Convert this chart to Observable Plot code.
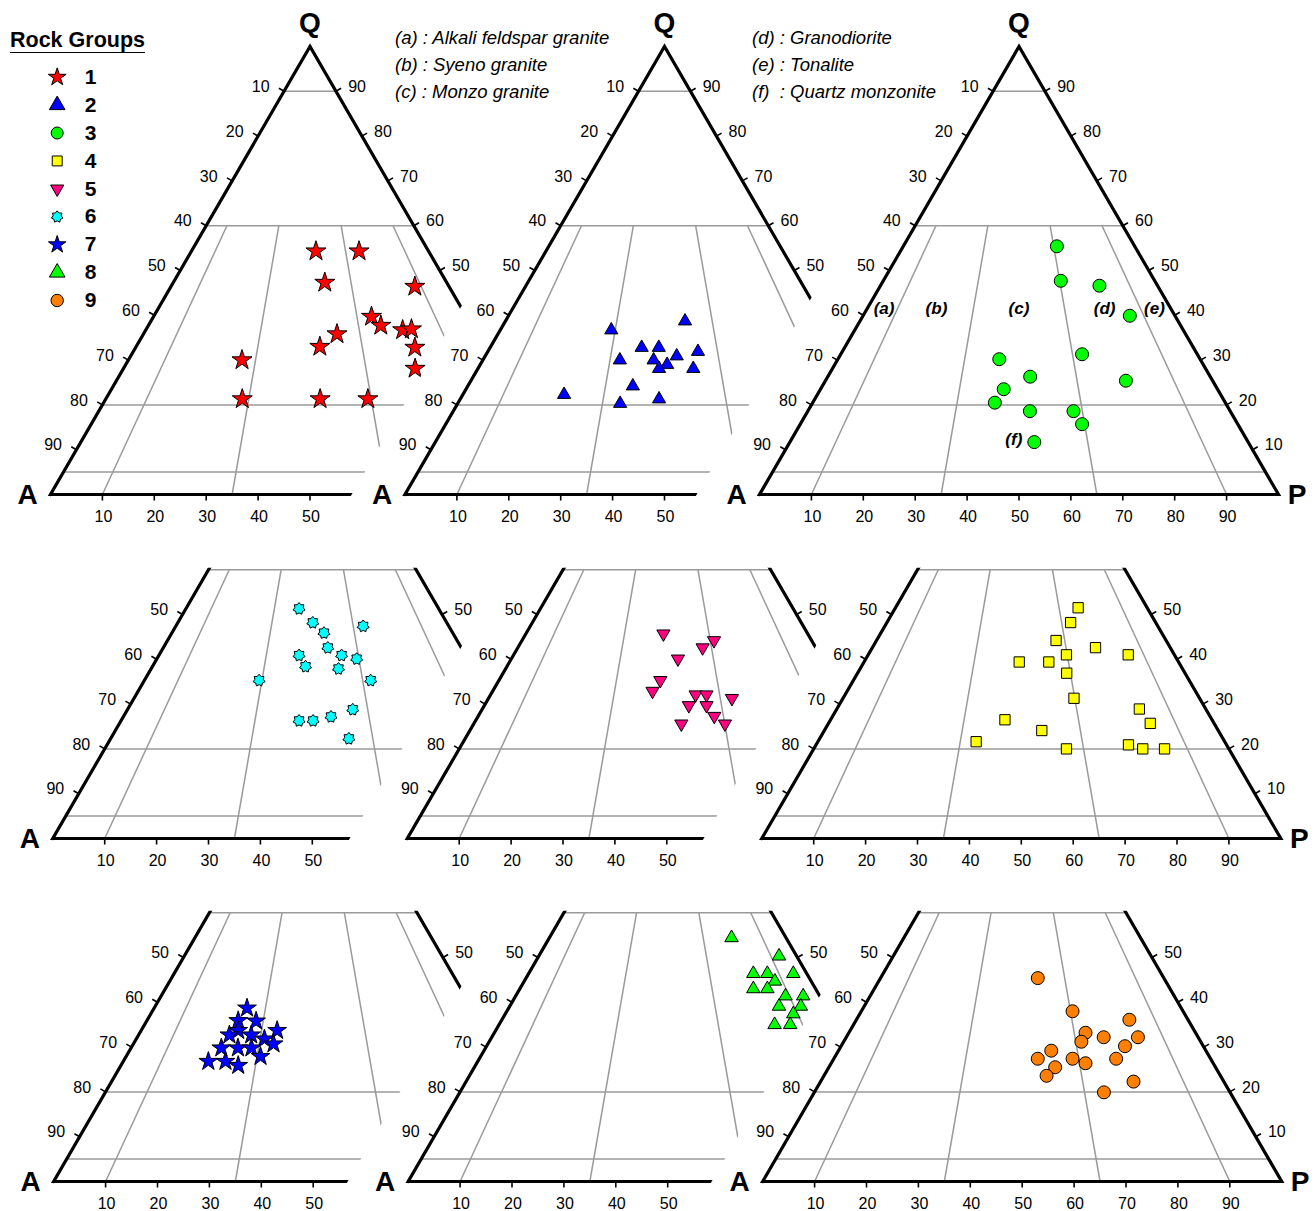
<!DOCTYPE html>
<html>
<head>
<meta charset="utf-8">
<script src="https://cdn.jsdelivr.net/npm/d3@7"></script>
<script src="https://cdn.jsdelivr.net/npm/@observablehq/plot@0.6"></script>
<style>
  html, body { margin: 0; padding: 0; background: #fff; }
  #page { position: relative; width: 1314px; height: 1211px; overflow: hidden; background: #fff; font-family: "Liberation Sans", Arial, sans-serif; }
  #page svg { position: absolute; left: 0; top: 0; }
  .note { position: absolute; font-style: italic; font-size: 18.5px; line-height: 20px; white-space: pre; color: #000; }
  .title { position: absolute; left: 10px; top: 28px; font-weight: bold; font-size: 21.5px; line-height: 24px; border-bottom: 1.5px solid #000; white-space: pre; color: #000; }
</style>
</head>
<body>
<div id="page"></div>
<script>
// ---------------- DATA (ternary percentages [Q, A, P]) ----------------
const groups = ["1", "2", "3", "4", "5", "6", "7", "8", "9"];

const group1 = [[54.3,21.7,24.0],[54.3,13.4,32.3],[47.3,23.5,29.2],[46.4,6.6,47.0],[39.7,18.3,42.0],[37.7,17.5,44.8],[36.7,13.8,49.5],[36.9,12.0,51.1],[35.8,26.9,37.3],[33.0,31.6,35.4],[32.8,13.4,53.8],[30.0,48.1,21.9],[28.1,15.7,56.2],[21.3,52.4,26.3],[21.3,37.4,41.3],[21.3,28.2,50.5]];
const group2 = [[38.7,26.7,34.6],[36.7,41.9,21.4],[32.8,38.0,29.2],[32.8,34.7,32.5],[31.9,27.6,40.5],[30.9,32.2,36.9],[30.0,43.6,26.4],[30.0,37.1,32.9],[29.0,35.0,36.0],[28.1,37.0,34.9],[28.1,30.4,41.5],[24.2,44.0,31.8],[22.3,58.2,19.5],[21.3,40.4,38.3],[20.3,48.4,31.3]];
const group3 = [[55.4,15.0,29.6],[47.7,18.1,34.2],[46.6,11.2,42.2],[39.9,8.7,51.4],[31.3,22.2,46.5],[30.2,38.7,31.1],[26.3,34.7,39.0],[25.4,16.7,57.9],[23.5,41.2,35.3],[20.5,44.4,35.1],[18.6,38.6,42.8],[18.6,30.2,51.2],[15.7,30.0,54.3],[11.7,41.2,47.1]];
const group4 = [[51.5,13.3,35.2],[48.2,16.4,35.4],[44.2,21.2,34.6],[42.6,14.4,43.0],[41.0,20.8,38.2],[41.0,8.9,50.1],[39.4,30.7,29.9],[39.4,25.0,35.6],[36.9,22.8,40.3],[31.3,24.2,44.5],[28.9,12.8,58.3],[26.5,39.9,33.6],[25.7,12.3,62.0],[24.1,34.0,41.9],[21.6,47.9,30.5],[20.9,18.9,60.2],[20.0,31.3,48.7],[20.0,16.6,63.4],[20.0,12.4,67.6]];
const group5 = [[45.7,27.8,26.5],[44.2,18.8,37.0],[42.6,21.8,35.6],[40.1,27.8,32.1],[35.3,33.6,31.1],[32.9,36.3,30.8],[32.1,28.4,39.5],[32.1,26.3,41.6],[31.3,21.8,46.9],[29.7,30.9,39.4],[29.7,27.5,42.8],[27.3,27.2,45.5],[25.6,34.4,40.0],[25.6,26.0,48.4]];
const group6 = [[51.3,26.9,21.8],[48.2,25.8,26.0],[47.4,16.5,36.1],[45.9,24.8,29.3],[42.6,25.7,31.7],[40.9,32.1,27.0],[40.9,23.9,35.2],[40.1,21.4,38.5],[38.4,32.1,29.5],[37.9,26.0,36.1],[35.3,42.6,22.1],[35.3,21.1,43.6],[28.8,27.8,43.4],[27.2,32.8,40.0],[26.3,39.4,34.3],[26.3,36.7,37.0],[22.3,31.8,45.9]];
const group7 = [[38.7,43.4,17.9],[35.9,46.5,17.6],[35.8,43.1,21.1],[33.7,47.6,18.7],[33.7,40.1,26.2],[32.7,49.8,17.5],[32.7,45.6,21.7],[31.8,43.5,24.7],[30.7,42.3,27.0],[29.8,52.8,17.4],[29.8,49.6,20.6],[29.8,47.0,23.2],[27.9,46.2,25.9],[26.8,56.8,16.4],[26.8,53.5,19.7],[25.9,51.5,22.6]];
const group8 = [[54.4,10.5,35.1],[50.3,3.4,46.3],[46.4,10.3,43.3],[46.4,7.6,46.0],[46.4,2.6,51.0],[44.7,7.0,48.3],[43.0,12.0,45.0],[43.0,9.3,47.7],[41.4,6.6,52.0],[41.4,3.2,55.4],[39.1,9.0,51.9],[39.1,4.8,56.1],[37.4,7.1,55.5],[35.0,11.9,53.1],[35.0,8.9,56.1]];
const group9 = [[45.4,24.3,30.3],[38.0,21.3,40.7],[36.1,11.3,52.6],[33.2,21.2,45.6],[32.2,18.2,49.6],[32.2,11.6,56.2],[31.2,23.0,45.8],[30.2,15.1,54.7],[29.2,29.8,41.0],[27.4,33.3,39.3],[27.4,26.6,46.0],[27.4,18.2,54.4],[26.4,24.6,49.0],[25.5,30.9,43.6],[23.6,33.5,42.9],[22.3,17.4,60.3],[19.9,24.3,55.8]];

// classification field labels (ternary [Q, A, P])
const regionNames = ["(a)", "(b)", "(c)", "(d)", "(e)", "(f)"];
const regionCoords = [[41.6,55.2,3.2],[41.6,45.1,13.3],[41.6,29.2,29.2],[41.6,12.7,45.7],[41.6,3.1,55.3],[12.2,44.9,42.9]];

// QAPF field boundaries
const qLines = [90, 60, 20, 5];          // Q levels
const ratioLines = [10, 35, 65, 90];     // 100*P/(A+P)
const tickVals = [10, 20, 30, 40, 50, 60, 70, 80, 90];

const notesLeft = ["(a) : Alkali feldspar granite", "(b) : Syeno granite", "(c) : Monzo granite"];
const notesRight = ["(d) : Granodiorite", "(e) : Tonalite", "(f)  : Quartz monzonite"];

// ---------------- STYLE / LAYOUT ----------------
const FONT = '"Liberation Sans", Arial, sans-serif';
const GRID = "#9a9a9a";
const page = document.getElementById("page");
const PAGE_W = 1314, PAGE_H = 1211;
const W = 519, H = 448;
const colAx = [50, 404.5, 759];
const rowDx = [0, 2.3, 3.2];
const rowBase = [494, 838, 1181];
const clipBase = [[352, 697], [350, 704], [348, 712]];
const clipK = 0.583;

const triangleDown = {
  draw(ctx, size) {
    const y = -Math.sqrt(size / (3 * Math.sqrt(3)));
    ctx.moveTo(0, -2 * y);
    ctx.lineTo(-Math.sqrt(3) * y, y);
    ctx.lineTo(Math.sqrt(3) * y, y);
    ctx.closePath();
  }
};
const star7 = {
  draw(ctx, size) {
    const R = Math.sqrt(size / Math.PI) * 1.1, r0 = R * 0.7;
    for (let i = 0; i < 14; i++) {
      const a = -Math.PI / 2 + i * Math.PI / 7;
      const rr = i % 2 ? r0 : R;
      const px = rr * Math.cos(a), py = rr * Math.sin(a);
      if (i) ctx.lineTo(px, py); else ctx.moveTo(px, py);
    }
    ctx.closePath();
  }
};

const groupStyle = {
  "1": {symbol: "star", fill: "#ff0000", r: 6.3, lr: 5.6},
  "2": {symbol: "triangle", fill: "#0000ff", r: 4.9, lr: 5.8},
  "3": {symbol: "circle", fill: "#00ff00", r: 6.5, lr: 6.0},
  "4": {symbol: "square", fill: "#ffff00", r: 5.8, lr: 5.6},
  "5": {symbol: triangleDown, fill: "#ff0080", r: 4.9, lr: 4.9},
  "6": {symbol: star7, fill: "#00ffff", r: 5.6, lr: 5.4},
  "7": {symbol: "star", fill: "#0000ff", r: 5.9, lr: 5.5},
  "8": {symbol: "triangle", fill: "#00ff00", r: 5.0, lr: 5.8},
  "9": {symbol: "circle", fill: "#ff8000", r: 6.5, lr: 6.2}
};

const panelDefs = [
  {row: 0, col: 0, group: "1", data: group1},
  {row: 0, col: 1, group: "2", data: group2},
  {row: 0, col: 2, group: "3", data: group3},
  {row: 1, col: 0, group: "6", data: group6},
  {row: 1, col: 1, group: "5", data: group5},
  {row: 1, col: 2, group: "4", data: group4},
  {row: 2, col: 0, group: "7", data: group7},
  {row: 2, col: 1, group: "8", data: group8},
  {row: 2, col: 2, group: "9", data: group9}
];
const showA = [[true, true, true], [true, false, false], [true, true, true]];

function q60y(r) { return rowBase[r] - 0.6 * H; }
function clipX(r, c, y) { return clipBase[r][c] + (rowBase[r] - y) * clipK; }
function clipPoly(r, c) {
  const yT = r === 0 ? 0 : q60y(r) - 1.5;
  const yB = r === 2 ? PAGE_H : q60y(r + 1) - 1.5;
  const L = y => c === 0 ? 0 : clipX(r, c - 1, y);
  const R = y => c === 2 ? PAGE_W : clipX(r, c, y);
  return `polygon(${L(yT)}px ${yT}px, ${R(yT)}px ${yT}px, ${R(yB)}px ${yB}px, ${L(yB)}px ${yB}px)`;
}

const tern = ([q, a, p]) => ({x: p + q / 2, y: q});

function drawPanel(def) {
  const {row: r, col: c, group, data} = def;
  const st = groupStyle[group];
  const ax = colAx[c] + rowDx[r], base = rowBase[r];
  const pts = data.map(tern);
  const outline = [[0, 0], [50, 100], [100, 0], [0, 0], [50, 100]];
  const hl = qLines.map(q => ({x1: q / 2, x2: 100 - q / 2, y: q}));
  const rl = ratioLines.map(f => ({x1: 30 + 0.4 * f, y1: 60, x2: f, y2: 0}));
  const tl = 6, ux = 100 / W, uy = 100 / H;
  const edgeLen = Math.hypot(W / 2, H);
  const nx = H / edgeLen, ny = (W / 2) / edgeLen;
  const baseV = tickVals.filter(v => c === 2 || v <= 50);
  const leftQ = tickVals.filter(q => r === 0 || q <= 50);
  const rightQ = tickVals.filter(q => c === 2 ? (r === 0 || q <= 50) : (r === 0 ? q >= 50 : q === 50));
  const ticks = [
    ...baseV.map(v => ({x1: v, y1: 0, x2: v, y2: -tl * uy})),
    ...leftQ.map(q => ({x1: q / 2, y1: q, x2: q / 2 - tl * nx * ux, y2: q + tl * ny * uy})),
    ...rightQ.map(q => ({x1: 100 - q / 2, y1: q, x2: 100 - q / 2 + tl * nx * ux, y2: q + tl * ny * uy}))
  ];
  const vertex = [];
  if (showA[r][c]) vertex.push({x: 0, y: 0, t: "A", dx: -23, dy: 1});
  if (r === 0) vertex.push({x: 50, y: 100, t: "Q", dx: 0, dy: -23});
  if (c === 2) vertex.push({x: 100, y: 0, t: "P", dx: 18.5, dy: 1});

  const marks = [
    Plot.link(hl, {x1: "x1", x2: "x2", y1: "y", y2: "y", stroke: GRID, strokeWidth: 1.5}),
    Plot.link(rl, {x1: "x1", y1: "y1", x2: "x2", y2: "y2", stroke: GRID, strokeWidth: 1.5}),
    Plot.line(outline, {x: d => d[0], y: d => d[1], stroke: "black", strokeWidth: 3.2, strokeLinejoin: "miter", strokeMiterlimit: 10}),
    Plot.link(ticks, {x1: "x1", y1: "y1", x2: "x2", y2: "y2", stroke: "black", strokeWidth: 1.6}),
    Plot.text(baseV, {x: d => d, y: () => 0, text: d => String(d), dx: 1, dy: 22.5, fontSize: 16, fontFamily: FONT, fill: "black"}),
    Plot.text(leftQ, {x: q => q / 2, y: q => q, text: q => String(100 - q), textAnchor: "end", dx: -14.5, dy: -4.5, fontSize: 16, fontFamily: FONT, fill: "black"}),
    Plot.text(rightQ, {x: q => 100 - q / 2, y: q => q, text: q => String(q), textAnchor: "start", dx: 12.2, dy: -4.5, fontSize: 16, fontFamily: FONT, fill: "black"}),
    ...vertex.map(v => Plot.text([v], {x: "x", y: "y", text: "t", dx: v.dx, dy: v.dy, fontSize: 28, fontWeight: "bold", fontFamily: FONT, fill: "black"})),
    Plot.dot(pts, {x: "x", y: "y", symbol: st.symbol, fill: st.fill, stroke: "black", strokeWidth: 1, r: st.r})
  ];
  if (group === "3") {
    marks.push(Plot.text(regionCoords.map((d, i) => ({...tern(d), name: regionNames[i]})), {
      x: "x", y: "y", text: "name", fontSize: 17, fontWeight: "bold", fontStyle: "italic", fontFamily: FONT, fill: "black"
    }));
  }
  const svg = Plot.plot({
    width: PAGE_W, height: PAGE_H,
    x: {domain: [0, 100], range: [ax, ax + W], axis: null},
    y: {domain: [0, 100], range: [base, base - H], axis: null},
    marks
  });
  svg.style.clipPath = clipPoly(r, c);
  svg.style.maxWidth = "none";
  page.appendChild(svg);
}

panelDefs.forEach(drawPanel);

// ---------------- LEGEND ----------------
const legend = Plot.plot({
  width: 110, height: 320,
  x: {domain: [0, 1], range: [56.7, 90], axis: null},
  y: {type: "linear", domain: [1, 9], range: [76.7, 300], axis: null},
  marks: [
    ...groups.map(g => Plot.dot([g], {x: () => 0, y: d => +d, symbol: groupStyle[g].symbol, fill: groupStyle[g].fill, stroke: "black", strokeWidth: 1, r: groupStyle[g].lr})),
    Plot.text(groups, {x: () => 1, y: d => +d, text: d => d, fontSize: 21, fontWeight: "bold", fontFamily: FONT, fill: "black"})
  ]
});
legend.style.background = "transparent";
page.appendChild(legend);

const title = document.createElement("div");
title.className = "title";
title.textContent = "Rock Groups";
page.appendChild(title);

const noteTops = [27.7, 55, 81.7];
notesLeft.forEach((t, i) => {
  const d = document.createElement("div");
  d.className = "note"; d.textContent = t;
  d.style.left = "395px"; d.style.top = noteTops[i] + "px";
  page.appendChild(d);
});
notesRight.forEach((t, i) => {
  const d = document.createElement("div");
  d.className = "note"; d.textContent = t;
  d.style.left = "752px"; d.style.top = noteTops[i] + "px";
  page.appendChild(d);
});
</script>
</body>
</html>
